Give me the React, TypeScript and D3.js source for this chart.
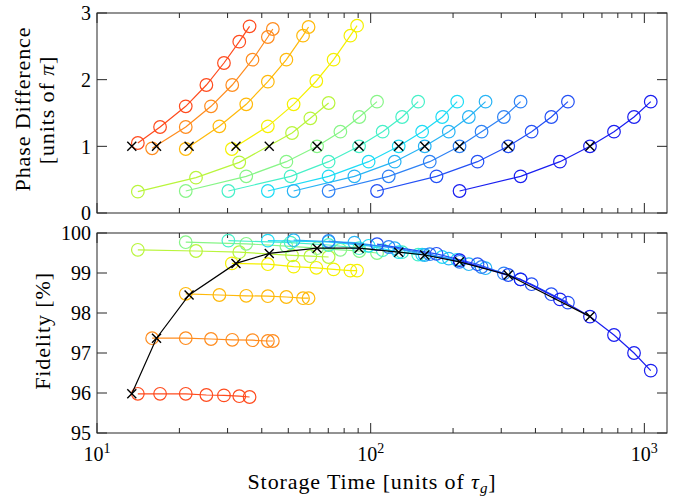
import React from 'react';
import * as d3 from 'd3';

// storage times (units of tau_g), one array per series
const times = [
  [14.1, 17.0, 21.1, 25.1, 29.1, 33.1, 36.1],
  [15.9, 21.1, 26.1, 31.2, 37.0, 42.1, 43.9],
  [21.1, 28.0, 35.1, 42.1, 49.2, 56.6, 59.3],
  [31.1, 42.1, 52.3, 63.3, 73.2, 84.3, 89.2],
  [14.1, 23.0, 33.1, 51.6, 60.2, 70.2],
  [21.1, 35.1, 49.2, 63.7, 77.5, 90.9, 105.5],
  [30.2, 51.0, 70.2, 90.7, 110.6, 130.3, 149.1],
  [42.1, 70.2, 98.3, 126.6, 154.2, 182.5, 207.1],
  [52.3, 87.2, 122.4, 157.6, 192.9, 228.4, 262.9],
  [70.2, 116.4, 164.4, 211.2, 254.2, 306.7, 353.0],
  [105.5, 174.0, 245.7, 318.2, 387.3, 457.2, 525.7],
  [211.2, 353.0, 491.6, 632.9, 774.6, 916.9, 1055.4],
];

// phase difference (units of pi)
const phases = [
  [1.05, 1.29, 1.6, 1.92, 2.25, 2.57, 2.8],
  [0.97, 1.29, 1.6, 1.92, 2.3, 2.64, 2.76],
  [0.96, 1.3, 1.63, 1.97, 2.3, 2.66, 2.79],
  [0.96, 1.3, 1.63, 1.98, 2.3, 2.66, 2.81],
  [0.32, 0.53, 0.76, 1.2, 1.42, 1.65],
  [0.33, 0.55, 0.77, 1.0, 1.22, 1.44, 1.67],
  [0.33, 0.55, 0.77, 1.0, 1.22, 1.44, 1.67],
  [0.33, 0.55, 0.77, 1.0, 1.22, 1.44, 1.67],
  [0.33, 0.55, 0.77, 1.0, 1.22, 1.44, 1.67],
  [0.33, 0.55, 0.77, 1.0, 1.22, 1.44, 1.67],
  [0.33, 0.55, 0.77, 1.0, 1.22, 1.44, 1.67],
  [0.33, 0.55, 0.77, 1.0, 1.22, 1.44, 1.67],
];

// fidelity (%)
const fidelities = [
  [95.98, 95.98, 95.98, 95.95, 95.94, 95.92, 95.9],
  [97.37, 97.37, 97.35, 97.33, 97.32, 97.3, 97.3],
  [98.48, 98.45, 98.43, 98.42, 98.4, 98.37, 98.37],
  [99.24, 99.22, 99.16, 99.13, 99.09, 99.06, 99.06],
  [99.58, 99.55, 99.52, 99.44, 99.42, 99.4],
  [99.77, 99.73, 99.67, 99.62, 99.58, 99.55, 99.5],
  [99.81, 99.76, 99.7, 99.62, 99.57, 99.52, 99.46],
  [99.81, 99.78, 99.68, 99.52, 99.46, 99.4, 99.33],
  [99.82, 99.76, 99.62, 99.45, 99.36, 99.22, 99.12],
  [99.8, 99.65, 99.47, 99.28, 99.15, 98.99, 98.84],
  [99.72, 99.48, 99.22, 98.95, 98.72, 98.47, 98.26],
  [99.32, 98.84, 98.34, 97.91, 97.45, 97.0, 96.56],
];

const colors = [
  '#ff4b1e', '#ff8c1e', '#ffb90a', '#f5f000', '#b9f53c', '#87f587',
  '#46f0c8', '#1edcf5', '#28b4f5', '#2d82f5', '#2350f5', '#191ef0',
];

// points where the phase difference reaches pi
const piTimes = [13.4, 16.5, 21.7, 32.2, 42.6, 63.7, 90.7, 126.6, 157.6, 211.2, 318.2, 632.9];
const piFidelity = [95.98, 97.37, 98.45, 99.24, 99.49, 99.62, 99.62, 99.52, 99.45, 99.28, 98.95, 97.91];

const phaseTicks = [0, 1, 2, 3];
const fidTicks = [95, 96, 97, 98, 99, 100];
const decades = [10, 100, 1000];

const W = 693, H = 498;
const left = 97, right = 667;
const top1 = 13, bot1 = 213, top2 = 233, bot2 = 433;
const font = "'Liberation Serif', serif";
const axisColor = '#262626';

const x = d3.scaleLog().domain([10, 1210]).range([left, right]);
const yPhase = d3.scaleLinear().domain([0, 3]).range([bot1, top1]);
const yFid = d3.scaleLinear().domain([95, 100]).range([bot2, top2]);

const minorTicks: number[] = [];
[10, 100, 1000].forEach(d => {
  for (let k = 2; k <= 9; k++) if (d * k <= 1210) minorTicks.push(d * k);
});

const txt = { fontFamily: font, fill: '#000' };

function Cross({ cx, cy }: { cx: number; cy: number }) {
  const s = 4.5;
  return (
    <path d={`M${cx - s},${cy - s}L${cx + s},${cy + s}M${cx - s},${cy + s}L${cx + s},${cy - s}`}
      stroke="#000" strokeWidth={1.4} fill="none" />
  );
}

function Frame({ y0, y1, y, ticks, labels }: { y0: number; y1: number; y: any; ticks: number[]; labels: boolean }) {
  return (
    <g>
      {ticks.map(t => (
        <g key={'y' + t}>
          <line x1={left} x2={left + 10} y1={y(t)} y2={y(t)} stroke={axisColor} />
          <line x1={right} x2={right - 10} y1={y(t)} y2={y(t)} stroke={axisColor} />
          <text x={left - 6} y={y(t)} dy="0.36em" textAnchor="end" fontSize={20} style={txt}>{t}</text>
        </g>
      ))}
      {minorTicks.map(t => (
        <g key={'m' + t}>
          <line x1={x(t)} x2={x(t)} y1={y1} y2={y1 - 5} stroke={axisColor} />
          <line x1={x(t)} x2={x(t)} y1={y0} y2={y0 + 5} stroke={axisColor} />
        </g>
      ))}
      {decades.map(t => (
        <g key={'d' + t}>
          <line x1={x(t)} x2={x(t)} y1={y1} y2={y1 - 10} stroke={axisColor} />
          <line x1={x(t)} x2={x(t)} y1={y0} y2={y0 + 10} stroke={axisColor} />
          {labels && (
            <text x={x(t)} y={y1 + 28} textAnchor="middle" fontSize={20} style={txt}>
              10<tspan dy={-8} fontSize={14}>{Math.round(Math.log10(t))}</tspan>
            </text>
          )}
        </g>
      ))}
      <rect x={left} y={y0} width={right - left} height={y1 - y0} fill="none" stroke={axisColor} strokeWidth={1} />
    </g>
  );
}

export default function App() {
  const linePhase = (i: number) =>
    d3.line<number>().x((t) => x(t)).y((_, j) => yPhase(phases[i][j]))(times[i]) || '';
  const lineFid = (i: number) =>
    d3.line<number>().x((t) => x(t)).y((_, j) => yFid(fidelities[i][j]))(times[i]) || '';
  const piLine = d3.line<number>().x((t) => x(t)).y((_, j) => yFid(piFidelity[j]))(piTimes) || '';

  return (
    <svg width={W} height={H} style={{ position: 'absolute', left: 0, top: 0, background: '#fff' }}>
      <Frame y0={top1} y1={bot1} y={yPhase} ticks={phaseTicks} labels={false} />
      <Frame y0={top2} y1={bot2} y={yFid} ticks={fidTicks} labels={true} />

      {/* top panel: phase */}
      {times.map((ts, i) => (
        <g key={'p' + i} stroke={colors[i]} fill="none" strokeWidth={1.2}>
          <path d={linePhase(i)} />
          {ts.map((t, j) => <circle key={j} cx={x(t)} cy={yPhase(phases[i][j])} r={6.3} />)}
        </g>
      ))}
      {piTimes.map((t, j) => <Cross key={'cp' + j} cx={x(t)} cy={yPhase(1)} />)}

      {/* bottom panel: fidelity */}
      {times.map((ts, i) => (
        <g key={'f' + i} stroke={colors[i]} fill="none" strokeWidth={1.2}>
          <path d={lineFid(i)} />
          {ts.map((t, j) => <circle key={j} cx={x(t)} cy={yFid(fidelities[i][j])} r={6.3} />)}
        </g>
      ))}
      <path d={piLine} stroke="#000" strokeWidth={1.2} fill="none" />
      {piTimes.map((t, j) => <Cross key={'cf' + j} cx={x(t)} cy={yFid(piFidelity[j])} />)}

      {/* axis titles */}
      <text transform={`translate(30,${(top1 + bot1) / 2 - 4}) rotate(-90)`} textAnchor="middle" fontSize={22} style={txt} letterSpacing={0.9}>
        Phase Difference
      </text>
      <text transform={`translate(54,${(top1 + bot1) / 2 - 3}) rotate(-90)`} textAnchor="middle" fontSize={22} style={txt} letterSpacing={0.9}>
        [units of <tspan fontStyle="italic">π</tspan>]
      </text>
      <text transform={`translate(50,${(top2 + bot2) / 2 - 2}) rotate(-90)`} textAnchor="middle" fontSize={22} style={txt} letterSpacing={0.9}>
        Fidelity [%]
      </text>
      <text x={(left + right) / 2 - 10} y={489} textAnchor="middle" fontSize={22} style={txt} letterSpacing={0.9}>
        Storage Time [units of <tspan fontStyle="italic">τ</tspan><tspan fontStyle="italic" fontSize={15} dy={4}>g</tspan><tspan dy={-4}>]</tspan>
      </text>
    </svg>
  );
}
